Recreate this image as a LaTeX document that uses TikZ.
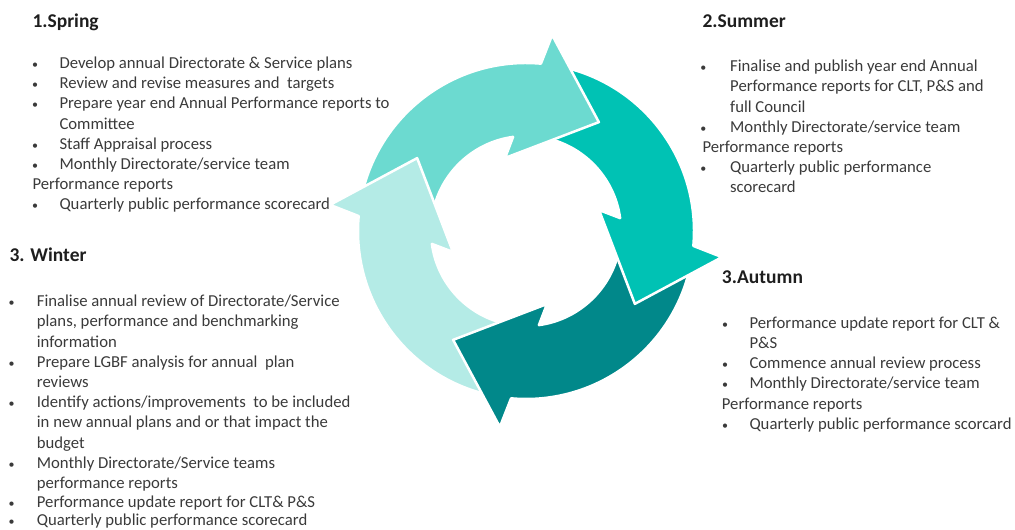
\documentclass[tikz,border=0pt]{standalone}
\usepackage{fontspec}
\setmainfont{Carlito}
\definecolor{springc}{HTML}{6CDAD0}
\definecolor{summerc}{HTML}{00C2B4}
\definecolor{autumnc}{HTML}{01888A}
\definecolor{winterc}{HTML}{B4EBE6}
\definecolor{txtgray}{HTML}{3A3A3A}
\definecolor{headc}{HTML}{1E1E1E}
\newcommand\mybody{\fontsize{16.7}{20.2}\selectfont}
\newcommand\mybul{\fontsize{12}{14}\selectfont}
\newcommand\myhead{\fontsize{19.5}{23}\selectfont\bfseries}
\newcommand\cyclearrow[2]{%
  \path[fill=#2, draw=white, line width=2.5pt, line join=round]
    (#1:131pt) -- (#1+26.2:197.7pt) -- (#1+28.7:168pt)
    arc[start angle=#1+28.7, end angle=#1+113.8, radius=168pt]
    -- (#1+113.8:95pt)
    arc[start angle=#1+113.8, end angle=#1+41.6, radius=95pt]
    -- (#1+49.8:76pt) -- cycle;}
\tikzset{
  bodytxt/.style={anchor=base west, inner sep=0pt, font=\mybody, text=txtgray},
  bul/.style={anchor=base, inner sep=0pt, font=\mybul, text=txtgray},
  headtxt/.style={anchor=base west, inner sep=0pt, font=\myhead, text=headc}
}
\begin{document}
\begin{tikzpicture}[x=1pt,y=1pt]
\useasboundingbox (0,0) rectangle (1015,530);
% cycle of arrows
\begin{scope}[shift={(526,299)}]
  \cyclearrow{146.2}{winterc}
  \cyclearrow{-123.8}{autumnc}
  \cyclearrow{-33.8}{summerc}
  \cyclearrow{56.2}{springc}
  \begin{scope}
    \clip (0,0) -- (125:260pt) arc[start angle=125, end angle=215, radius=260pt] -- cycle;
    \cyclearrow{146.2}{winterc}
  \end{scope}
\end{scope}
% Spring
\node[headtxt] (sp0) at (32.3,502.5) {1.Spring};
\node[bul] (spb1) at (35,461.5) {•};
\node[bodytxt] (sp1) at (59.3,461.5) {Develop annual Directorate \& Service plans};
\node[bul] (spb2) at (35,441.3) {•};
\node[bodytxt] (sp2) at (59.3,441.3) {Review and revise measures and \ targets};
\node[bul] (spb3) at (35,421.1) {•};
\node[bodytxt] (sp3) at (59.3,421.1) {Prepare year end Annual Performance reports to};
\node[bodytxt] (sp4) at (59.3,400.9) {Committee};
\node[bul] (spb5) at (35,380.7) {•};
\node[bodytxt] (sp5) at (59.3,380.7) {Staff Appraisal process};
\node[bul] (spb6) at (35,360.5) {•};
\node[bodytxt] (sp6) at (59.3,360.5) {Monthly Directorate/service team};
\node[bodytxt] (sp7) at (32.3,340.3) {Performance reports};
\node[bul] (spb8) at (35,320.1) {•};
\node[bodytxt] (sp8) at (59.3,320.1) {Quarterly public performance scorecard};
% Summer
\node[headtxt] (su0) at (702.3,502.5) {2.Summer};
\node[bul] (sub1) at (703.3,458.3) {•};
\node[bodytxt] (su1) at (730,458.3) {Finalise and publish year end Annual};
\node[bodytxt] (su2) at (730,438.1) {Performance reports for CLT, P\&S and};
\node[bodytxt] (su3) at (730,417.9) {full Council};
\node[bul] (sub4) at (703.3,397.7) {•};
\node[bodytxt] (su4) at (730,397.7) {Monthly Directorate/service team};
\node[bodytxt] (su5) at (702.3,377.5) {Performance reports};
\node[bul] (sub6) at (703.3,357.3) {•};
\node[bodytxt] (su6) at (730,357.3) {Quarterly public performance};
\node[bodytxt] (su7) at (730,337.1) {scorecard};
% Winter
\node[headtxt] (wi0) at (9.3,268.3) {3. Winter};
\node[bul] (wib1) at (11.7,223.3) {•};
\node[bodytxt] (wi1) at (36.7,223.3) {Finalise annual review of Directorate/Service};
\node[bodytxt] (wi2) at (36.7,203.1) {plans, performance and benchmarking};
\node[bodytxt] (wi3) at (36.7,182.9) {information};
\node[bul] (wib4) at (11.7,162.7) {•};
\node[bodytxt] (wi4) at (36.7,162.7) {Prepare LGBF analysis for annual \ plan};
\node[bodytxt] (wi5) at (36.7,142.5) {reviews};
\node[bul] (wib6) at (11.7,122.3) {•};
\node[bodytxt] (wi6) at (36.7,122.3) {Identify actions/improvements \ to be included};
\node[bodytxt] (wi7) at (36.7,102.1) {in new annual plans and or that impact the};
\node[bodytxt] (wi8) at (36.7,81.9) {budget};
\node[bul] (wib9) at (11.7,61.7) {•};
\node[bodytxt] (wi9) at (36.7,61.7) {Monthly Directorate/Service teams};
\node[bodytxt] (wi10) at (36.7,41.5) {performance reports};
\node[bul] (wib11) at (11.7,22.6) {•};
\node[bodytxt] (wi11) at (36.7,22.6) {Performance update report for CLT\& P\&S};
\node[bul] (wib12) at (11.7,4.6) {•};
\node[bodytxt] (wi12) at (36.7,4.6) {Quarterly public performance scorecard};
% Autumn
\node[headtxt] (au0) at (721.7,246.7) {3.Autumn};
\node[bul] (aub1) at (725,201.7) {•};
\node[bodytxt] (au1) at (749.3,201.7) {Performance update report for CLT \&};
\node[bodytxt] (au2) at (749.3,181.5) {P\&S};
\node[bul] (aub3) at (725,161.3) {•};
\node[bodytxt] (au3) at (749.3,161.3) {Commence annual review process};
\node[bul] (aub4) at (725,141.1) {•};
\node[bodytxt] (au4) at (749.3,141.1) {Monthly Directorate/service team};
\node[bodytxt] (au5) at (721.7,120.9) {Performance reports};
\node[bul] (aub6) at (725,100.7) {•};
\node[bodytxt] (au6) at (749.3,100.7) {Quarterly public performance scorcard};
\end{tikzpicture}
\end{document}
